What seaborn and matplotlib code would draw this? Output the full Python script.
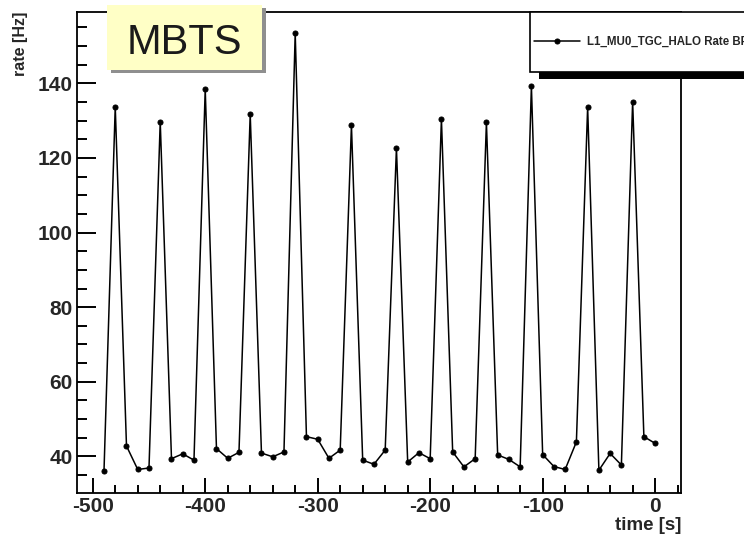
from __future__ import annotations

import matplotlib

matplotlib.use("Agg")
import matplotlib.pyplot as plt
from matplotlib.patches import Rectangle
from matplotlib.ticker import MultipleLocator
import pandas as pd
import seaborn as sns


# sample times [s] and trigger rate [Hz]
TIME_S = [
    -490, -480, -470, -460, -450, -440, -430, -420, -410, -400,
    -390, -380, -370, -360, -350, -340, -330, -320, -310, -300,
    -290, -280, -270, -260, -250, -240, -230, -220, -210, -200,
    -190, -180, -170, -160, -150, -140, -130, -120, -110, -100,
    -90, -80, -70, -60, -50, -40, -30, -20, -10, 0,
]
RATE_HZ = [
    36.1, 133.7, 42.8, 36.5, 36.9, 129.7, 39.4, 40.7, 39.0, 138.4,
    42.1, 39.5, 41.1, 131.7, 40.9, 39.9, 41.2, 153.4, 45.3, 44.6,
    39.5, 41.7, 128.7, 39.0, 37.9, 41.7, 122.6, 38.5, 41.0, 39.4,
    130.4, 41.2, 37.2, 39.4, 129.5, 40.4, 39.2, 37.2, 139.2, 40.5,
    37.3, 36.5, 43.9, 133.6, 36.3, 40.8, 37.7, 135.1, 45.3, 43.5,
]
SERIES_LABEL = "L1_MU0_TGC_HALO Rate BPTX"
X_MAJOR_TICKS = [-500, -400, -300, -200, -100, 0]
Y_MAJOR_TICKS = [40, 60, 80, 100, 120, 140]


def style() -> None:
    sns.set_theme(style="white")
    plt.rcParams.update(
        {
            "font.family": ["Liberation Sans", "DejaVu Sans"],
            "font.weight": "bold",
            "axes.linewidth": 1.3,
            "axes.edgecolor": "black",
            "axes.unicode_minus": False,
            "xtick.direction": "in",
            "ytick.direction": "in",
            "xtick.bottom": True,
            "ytick.left": True,
        }
    )


def main() -> None:
    style()
    W, H = 744, 543
    fig = plt.figure(figsize=(W / 100, H / 100), dpi=100, facecolor="white")
    ax = fig.add_axes([77 / W, 1 - 493 / H, 604 / W, 481 / H])

    frame = pd.DataFrame({"time": TIME_S, "rate": RATE_HZ})
    sns.lineplot(
        data=frame,
        x="time",
        y="rate",
        color="black",
        linewidth=1.1,
        marker="o",
        markersize=3.6,
        markeredgecolor="black",
        ax=ax,
        label=SERIES_LABEL,
        legend=False,
    )

    ax.set_xlim(-514, 23)
    ax.set_ylim(30.2, 159.1)
    ax.set_xticks(X_MAJOR_TICKS)
    ax.set_yticks(Y_MAJOR_TICKS)
    ax.xaxis.set_minor_locator(MultipleLocator(20))
    ax.yaxis.set_minor_locator(MultipleLocator(5))
    ax.tick_params(which="both", bottom=True, left=True, top=False, right=False,
                   color="black", width=1.4)
    ax.tick_params(axis="x", which="major", length=11, pad=3, labelsize=15)
    ax.tick_params(axis="x", which="minor", length=6)
    ax.tick_params(axis="y", which="major", length=13.5, pad=3, labelsize=15)
    ax.tick_params(axis="y", which="minor", length=7)
    for lab in ax.get_xticklabels() + ax.get_yticklabels():
        lab.set_fontweight("bold")
    ax.grid(False)

    ax.set_xlabel("time [s]", loc="right", fontsize=13.5, fontweight="bold")
    ax.xaxis.set_label_coords(1.0, -0.05)
    ax.set_ylabel("rate [Hz]", loc="top", fontsize=11.5, fontweight="bold")
    ax.yaxis.set_label_coords(-0.081, 1.0)

    # MBTS tag with its drop shadow
    fig.patches.append(
        Rectangle((111 / W, 1 - 73 / H), 155 / W, 65 / H, transform=fig.transFigure,
                  facecolor="#8f8f8f", edgecolor="none", zorder=5)
    )
    fig.patches.append(
        Rectangle((107 / W, 1 - 70 / H), 155 / W, 65 / H, transform=fig.transFigure,
                  facecolor="#ffffc6", edgecolor="none", zorder=6)
    )
    fig.text(184 / W, 1 - 54 / H, "MBTS", ha="center", va="baseline", fontsize=30,
             fontweight="normal", color="#1a1a1a", zorder=7)

    # ROOT-like legend box, running off the right edge
    fig.patches.append(
        Rectangle((539 / W, 1 - 79 / H), 0.4, 60 / H, transform=fig.transFigure,
                  facecolor="black", edgecolor="none", zorder=5)
    )
    fig.patches.append(
        Rectangle((530 / W, 1 - 72 / H), 0.4, 60 / H, transform=fig.transFigure,
                  facecolor="white", edgecolor="black", linewidth=1.2, zorder=6)
    )
    handles, labels = ax.get_legend_handles_labels()
    leg = fig.legend(
        handles,
        labels,
        loc="center left",
        bbox_to_anchor=(534 / W, 1 - 42 / H),
        bbox_transform=fig.transFigure,
        frameon=False,
        borderpad=0,
        borderaxespad=0,
        handlelength=4.0,
        handletextpad=0.6,
        prop={"size": 8.3, "weight": "bold"},
    )
    leg.set_zorder(8)

    fig.savefig("out.png", dpi=100, facecolor="white")
    plt.close(fig)


if __name__ == "__main__":
    main()
